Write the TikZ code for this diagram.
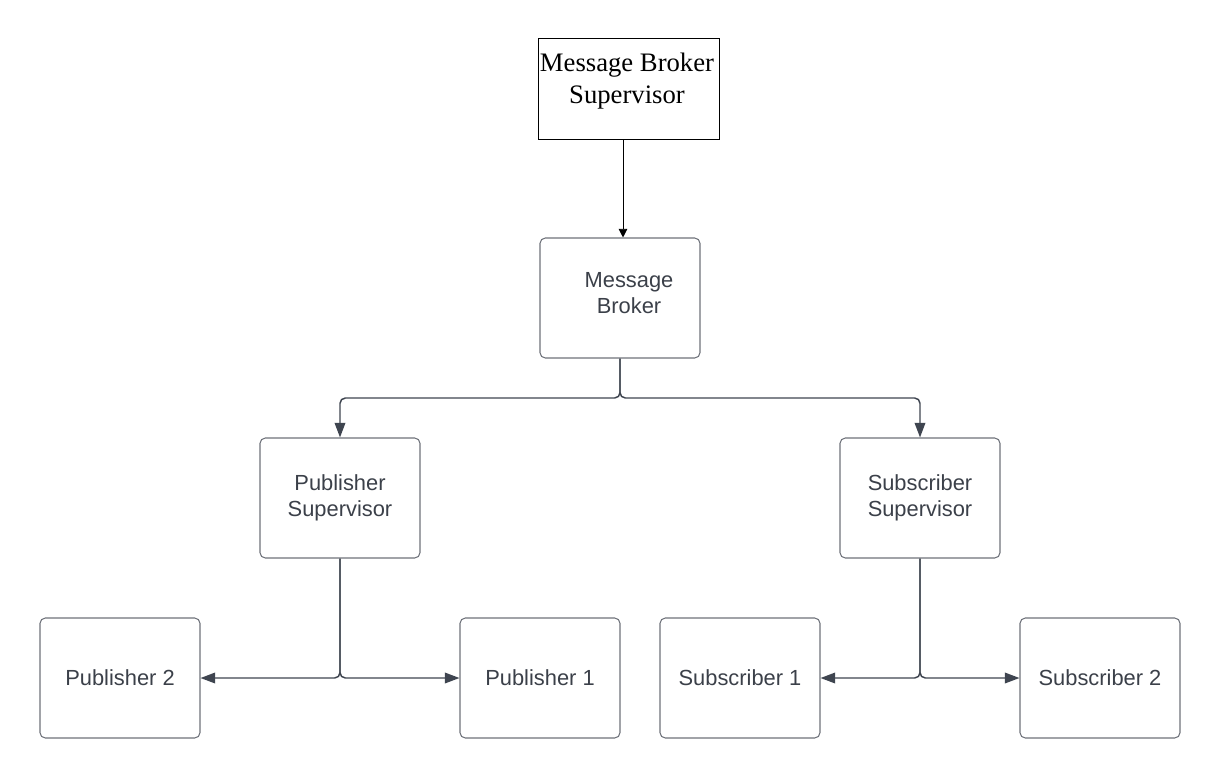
\documentclass[tikz,border=0pt]{standalone}
\usepackage{fontspec}
\setmainfont{Liberation Sans}
\newfontfamily\serifface{Liberation Serif}
\usetikzlibrary{arrows.meta}
\definecolor{txtgray}{HTML}{3B4049}
\definecolor{boxgray}{HTML}{6E727A}
\definecolor{linegray}{HTML}{3F4550}
\tikzset{
  rbox/.style={draw=boxgray, line width=0.8pt, rounded corners=4pt, minimum width=120pt, minimum height=90pt, inner sep=0pt, align=center, text=txtgray, font=\fontsize{16.4}{19.5}\selectfont},
  sbox/.style={draw=black, line width=0.65pt, minimum width=135.75pt, minimum height=75.75pt, inner sep=0pt},
  stxt/.style={align=center, inner sep=0pt, font=\serifface\fontsize{20}{24}\selectfont},
  conn/.style={draw=linegray, line width=1.1pt, rounded corners=4pt, -{Triangle[length=11pt,width=8pt]}},
  topconn/.style={draw=black, line width=0.7pt, -{Triangle[length=6.5pt,width=6.5pt]}}
}
\begin{document}
\begin{tikzpicture}[x=0.75pt,y=-0.75pt]
\useasboundingbox (0,0) rectangle (1220,778);
\node[sbox] (mbs) at (628.5,88.5) {};
\node[stxt] (mbstext) at (627,81) {Message Broker\\Supervisor};
\node[rbox, text depth=8pt] (mb) at (620,298) {\hspace*{13.5pt}Message\\\hspace*{13.5pt}Broker};
\node[rbox] (ps) at (340,498) {\raisebox{2pt}{Publisher}\\\raisebox{2pt}{Supervisor}};
\node[rbox] (ss) at (920,498) {\raisebox{2pt}{Subscriber}\\\raisebox{2pt}{Supervisor}};
\node[rbox] (p2) at (120,678) {Publisher 2};
\node[rbox] (p1) at (540,678) {Publisher 1};
\node[rbox] (s1) at (740,678) {Subscriber 1};
\node[rbox] (s2) at (1100,678) {Subscriber 2};
\coordinate (top) at (623,139);
\draw[topconn] (top) -- (top |- mb.north);
\coordinate (mbsplit) at (620,398);
\draw[conn] (mb.south) -- (mbsplit) -| (ps.north);
\draw[conn] (mb.south) -- (mbsplit) -| (ss.north);
\coordinate (pssplit) at (340,678);
\draw[conn] (ps.south) -- (pssplit) -- (p2.east);
\draw[conn] (ps.south) -- (pssplit) -- (p1.west);
\coordinate (sssplit) at (920,678);
\draw[conn] (ss.south) -- (sssplit) -- (s1.east);
\draw[conn] (ss.south) -- (sssplit) -- (s2.west);
\end{tikzpicture}
\end{document}
